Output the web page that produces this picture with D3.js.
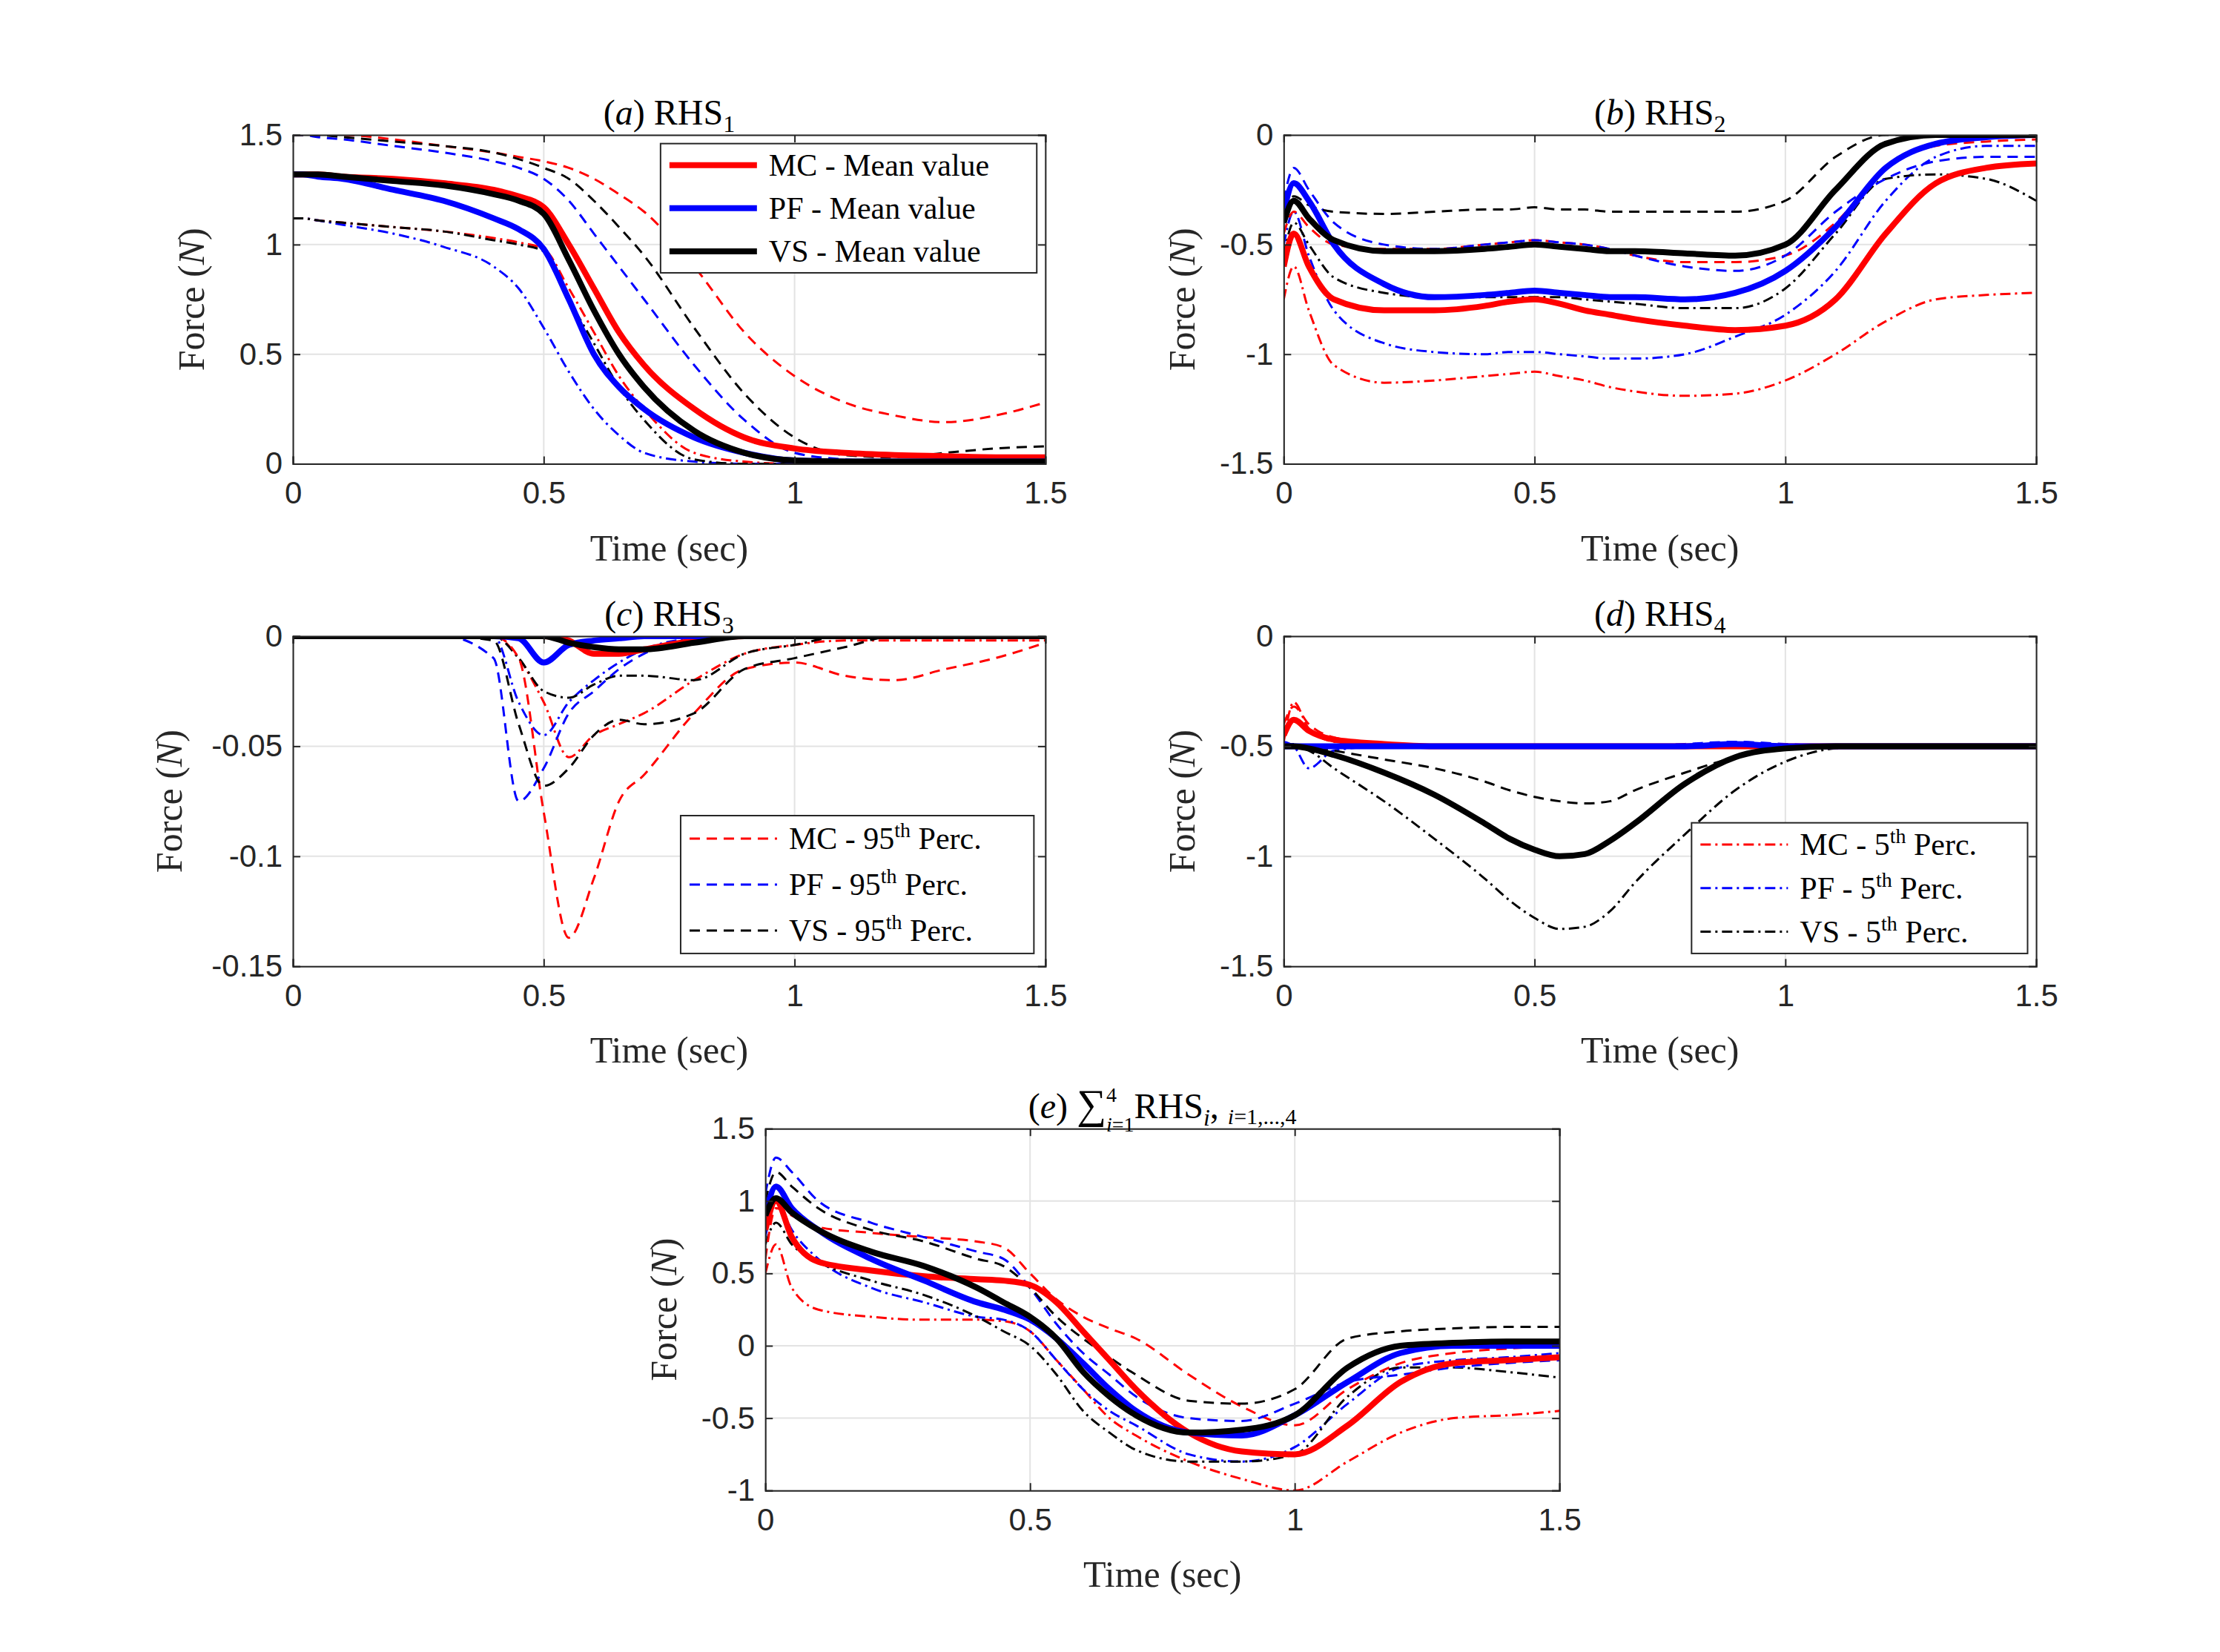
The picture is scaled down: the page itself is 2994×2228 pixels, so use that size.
<!DOCTYPE html>
<html><head><meta charset="utf-8">
<script src="https://cdn.jsdelivr.net/npm/d3@7"></script>
<style>
body{margin:0;background:#fff}
svg{font-family:"Liberation Serif","DejaVu Serif",serif}
.ejes text{font-size:42px;fill:#262626}
.ejes path,.ejes line{stroke:#262626}
</style></head><body>
<div id="graf"></div>
<script>
const T = [0,0.02,0.05,0.1,0.2,0.3,0.4,0.45,0.5,0.55,0.6,0.65,0.7,0.8,0.9,1.0,1.1,1.2,1.3,1.4,1.5]

// (a) RHS1
const a_mcMean = [1.32,1.32,1.32,1.31,1.3,1.28,1.25,1.22,1.17,1.0,0.8,0.6,0.45,0.25,0.12,0.07,0.05,0.04,0.035,0.03,0.03]
const a_pfMean = [1.32,1.32,1.31,1.3,1.25,1.2,1.12,1.07,0.98,0.75,0.5,0.35,0.25,0.12,0.05,0.015,0.01,0.01,0.01,0.01,0.01]
const a_vsMean = [1.32,1.32,1.32,1.31,1.29,1.27,1.23,1.2,1.14,0.93,0.7,0.5,0.35,0.15,0.05,0.015,0.01,0.01,0.01,0.01,0.01]
const a_mc95 = [1.5,1.5,1.5,1.5,1.48,1.45,1.42,1.4,1.38,1.35,1.3,1.23,1.15,0.9,0.6,0.4,0.28,0.22,0.19,0.22,0.28]
const a_pf95 = [1.5,1.5,1.49,1.48,1.45,1.42,1.38,1.35,1.3,1.2,1.05,0.9,0.75,0.45,0.2,0.05,0.02,0.01,0.01,0.01,0.01]
const a_vs95 = [1.5,1.5,1.5,1.49,1.47,1.45,1.42,1.39,1.35,1.3,1.2,1.08,0.95,0.62,0.32,0.12,0.04,0.03,0.05,0.07,0.08]
const a_mc5 = [1.12,1.12,1.11,1.1,1.08,1.06,1.03,1.01,0.98,0.8,0.6,0.4,0.25,0.05,0.01,0,0,0,0,0,0]
const a_pf5 = [1.12,1.12,1.11,1.09,1.05,0.99,0.9,0.8,0.62,0.42,0.25,0.13,0.05,0.01,0,0,0,0,0,0,0]
const a_vs5 = [1.12,1.12,1.11,1.1,1.08,1.06,1.02,1.0,0.97,0.75,0.55,0.35,0.2,0.02,0,0,0,0,0,0,0]

// (b) RHS2
const b_mcMean = [-0.6,-0.45,-0.6,-0.75,-0.8,-0.8,-0.78,-0.76,-0.75,-0.77,-0.8,-0.82,-0.84,-0.87,-0.89,-0.87,-0.75,-0.45,-0.22,-0.15,-0.13]
const b_pfMean = [-0.35,-0.22,-0.3,-0.5,-0.68,-0.74,-0.73,-0.72,-0.71,-0.72,-0.73,-0.74,-0.74,-0.75,-0.72,-0.62,-0.42,-0.15,-0.04,-0.01,0]
const b_vsMean = [-0.4,-0.3,-0.38,-0.48,-0.53,-0.53,-0.52,-0.51,-0.5,-0.51,-0.52,-0.53,-0.53,-0.54,-0.55,-0.5,-0.25,-0.04,0,0,0]
const b_mc95 = [-0.45,-0.35,-0.42,-0.5,-0.52,-0.52,-0.5,-0.49,-0.48,-0.49,-0.5,-0.52,-0.55,-0.58,-0.58,-0.55,-0.4,-0.15,-0.05,-0.03,-0.02]
const b_pf95 = [-0.3,-0.15,-0.25,-0.4,-0.5,-0.52,-0.5,-0.49,-0.48,-0.49,-0.5,-0.52,-0.55,-0.6,-0.62,-0.55,-0.35,-0.2,-0.12,-0.1,-0.1]
const b_vs95 = [-0.35,-0.28,-0.32,-0.35,-0.36,-0.35,-0.34,-0.34,-0.33,-0.34,-0.34,-0.35,-0.35,-0.35,-0.35,-0.3,-0.1,0,0,0,0]
const b_mc5 = [-0.75,-0.6,-0.8,-1.05,-1.13,-1.12,-1.1,-1.09,-1.08,-1.1,-1.12,-1.15,-1.17,-1.19,-1.18,-1.12,-1.0,-0.85,-0.75,-0.73,-0.72]
const b_pf5 = [-0.5,-0.35,-0.55,-0.8,-0.95,-0.99,-1.0,-0.99,-0.99,-1.0,-1.01,-1.02,-1.02,-1.0,-0.92,-0.82,-0.62,-0.3,-0.1,-0.05,-0.05]
const b_vs5 = [-0.55,-0.4,-0.5,-0.65,-0.72,-0.74,-0.74,-0.74,-0.74,-0.74,-0.75,-0.76,-0.77,-0.79,-0.79,-0.7,-0.45,-0.2,-0.18,-0.2,-0.3]

// (c) RHS3
const c_mcMean = [0,0,0,0,0,0,0,0,0,-0.002,-0.008,-0.008,-0.006,-0.002,0,0,0,0,0,0,0]
const c_pfMean = [0,0,0,0,0,0,0,-0.001,-0.012,-0.004,-0.002,-0.001,0,0,0,0,0,0,0,0,0]
const c_vsMean = [0,0,0,0,0,0,0,0,0,-0.003,-0.005,-0.006,-0.006,-0.003,0,0,0,0,0,0,0]
const c_mc95 = [0,0,0,0,0,0,0,-0.01,-0.08,-0.137,-0.11,-0.075,-0.063,-0.035,-0.015,-0.012,-0.018,-0.02,-0.015,-0.01,-0.003]
const c_pf95 = [0,0,0,0,0,0,-0.01,-0.075,-0.06,-0.035,-0.025,-0.015,-0.008,-0.002,0,0,0,0,0,0,0]
const c_vs95 = [0,0,0,0,0,0,-0.002,-0.04,-0.068,-0.06,-0.045,-0.038,-0.04,-0.035,-0.015,-0.01,-0.005,0,0,0,0]
const c_mc5 = [0,0,0,0,0,0,0,-0.01,-0.03,-0.055,-0.045,-0.04,-0.035,-0.02,-0.008,-0.004,-0.002,-0.002,-0.002,-0.002,-0.002]
const c_pf5 = [0,0,0,0,0,0,0,-0.03,-0.045,-0.03,-0.02,-0.012,-0.006,-0.001,0,0,0,0,0,0,0]
const c_vs5 = [0,0,0,0,0,0,0,-0.01,-0.025,-0.028,-0.022,-0.018,-0.018,-0.02,-0.008,-0.004,0,0,0,0,0]

// (d) RHS4
const d_mcMean = [-0.45,-0.38,-0.43,-0.47,-0.49,-0.5,-0.5,-0.5,-0.5,-0.5,-0.5,-0.5,-0.5,-0.5,-0.5,-0.5,-0.5,-0.5,-0.5,-0.5,-0.5]
const d_pfMean = [-0.5,-0.5,-0.5,-0.5,-0.5,-0.5,-0.5,-0.5,-0.5,-0.5,-0.5,-0.5,-0.5,-0.5,-0.49,-0.5,-0.5,-0.5,-0.5,-0.5,-0.5]
const d_vsMean = [-0.5,-0.5,-0.51,-0.54,-0.62,-0.72,-0.85,-0.92,-0.97,-1.0,-0.99,-0.93,-0.85,-0.67,-0.55,-0.51,-0.5,-0.5,-0.5,-0.5,-0.5]
const d_mc95 = [-0.4,-0.32,-0.4,-0.46,-0.49,-0.5,-0.5,-0.5,-0.5,-0.5,-0.5,-0.5,-0.5,-0.5,-0.49,-0.5,-0.5,-0.5,-0.5,-0.5,-0.5]
const d_pf95 = [-0.5,-0.49,-0.5,-0.5,-0.5,-0.5,-0.5,-0.5,-0.5,-0.5,-0.5,-0.5,-0.5,-0.49,-0.48,-0.49,-0.5,-0.5,-0.5,-0.5,-0.5]
const d_vs95 = [-0.5,-0.5,-0.5,-0.52,-0.56,-0.6,-0.66,-0.7,-0.73,-0.75,-0.76,-0.75,-0.7,-0.62,-0.55,-0.51,-0.5,-0.5,-0.5,-0.5,-0.5]
const d_mc5 = [-0.48,-0.3,-0.42,-0.48,-0.5,-0.5,-0.5,-0.5,-0.5,-0.5,-0.5,-0.5,-0.5,-0.5,-0.5,-0.5,-0.5,-0.5,-0.5,-0.5,-0.5]
const d_pf5 = [-0.48,-0.5,-0.6,-0.52,-0.5,-0.5,-0.5,-0.5,-0.5,-0.5,-0.5,-0.5,-0.5,-0.5,-0.5,-0.5,-0.5,-0.5,-0.5,-0.5,-0.5]
const d_vs5 = [-0.5,-0.5,-0.52,-0.6,-0.75,-0.92,-1.1,-1.2,-1.28,-1.33,-1.32,-1.25,-1.12,-0.9,-0.7,-0.57,-0.51,-0.5,-0.5,-0.5,-0.5]

// (e) sum
const e_mcMean = [0.8,1.0,0.75,0.58,0.52,0.48,0.46,0.45,0.42,0.3,0.1,-0.1,-0.3,-0.6,-0.73,-0.75,-0.55,-0.25,-0.12,-0.1,-0.08]
const e_pfMean = [0.9,1.1,0.95,0.8,0.6,0.45,0.3,0.25,0.18,0.05,-0.12,-0.3,-0.45,-0.6,-0.62,-0.48,-0.25,-0.05,0,0,0]
const e_vsMean = [0.9,1.02,0.92,0.8,0.65,0.55,0.4,0.3,0.2,0.05,-0.18,-0.35,-0.48,-0.6,-0.58,-0.48,-0.15,0,0.02,0.03,0.03]
const e_mc95 = [0.6,0.95,0.9,0.82,0.78,0.75,0.72,0.68,0.5,0.32,0.2,0.12,0.05,-0.2,-0.42,-0.55,-0.3,-0.12,-0.05,-0.02,0]
const e_pf95 = [1.05,1.3,1.2,1.0,0.85,0.75,0.65,0.6,0.4,0.15,-0.05,-0.2,-0.35,-0.5,-0.52,-0.4,-0.25,-0.2,-0.15,-0.12,-0.1]
const e_vs95 = [1.0,1.2,1.1,0.95,0.8,0.72,0.6,0.55,0.4,0.2,0.05,-0.08,-0.2,-0.38,-0.4,-0.3,0.05,0.1,0.12,0.13,0.13]
const e_mc5 = [0.5,0.7,0.4,0.25,0.2,0.18,0.18,0.17,0.1,-0.1,-0.3,-0.5,-0.62,-0.8,-0.92,-1.0,-0.8,-0.6,-0.5,-0.48,-0.45]
const e_pf5 = [0.75,1.0,0.8,0.6,0.4,0.3,0.2,0.18,0.1,-0.1,-0.3,-0.45,-0.55,-0.75,-0.8,-0.7,-0.4,-0.15,-0.1,-0.08,-0.05]
const e_vs5 = [0.7,0.85,0.7,0.58,0.45,0.35,0.2,0.1,0.0,-0.2,-0.45,-0.6,-0.72,-0.8,-0.8,-0.75,-0.35,-0.15,-0.15,-0.18,-0.22]

const xTicks = [0, 0.5, 1, 1.5]
const S = 2994 / 1546

const colores = { MC: "#ff0000", PF: "#0000ff", VS: "#000000" }
const dash = { mean: null, p95: "14,9", p5: "14,6,3,6" }

const panels = [
  { id: "a", box: [204, 94, 728, 323], y: [0, 1.5], yt: [0, 0.5, 1, 1.5], sub: "1",
    series: { MC: [a_mcMean, a_mc95, a_mc5], PF: [a_pfMean, a_pf95, a_pf5], VS: [a_vsMean, a_vs95, a_vs5] },
    legend: { kind: "mean", box: [460, 100, 722, 190] } },
  { id: "b", box: [894, 94, 1418, 323], y: [-1.5, 0], yt: [-1.5, -1, -0.5, 0], sub: "2",
    series: { MC: [b_mcMean, b_mc95, b_mc5], PF: [b_pfMean, b_pf95, b_pf5], VS: [b_vsMean, b_vs95, b_vs5] } },
  { id: "c", box: [204, 443, 728, 673], y: [-0.15, 0], yt: [-0.15, -0.1, -0.05, 0], sub: "3",
    series: { MC: [c_mcMean, c_mc95, c_mc5], PF: [c_pfMean, c_pf95, c_pf5], VS: [c_vsMean, c_vs95, c_vs5] },
    legend: { kind: "p95", box: [474, 568, 720, 664] } },
  { id: "d", box: [894, 443, 1418, 673], y: [-1.5, 0], yt: [-1.5, -1, -0.5, 0], sub: "4",
    series: { MC: [d_mcMean, d_mc95, d_mc5], PF: [d_pfMean, d_pf95, d_pf5], VS: [d_vsMean, d_vs95, d_vs5] },
    legend: { kind: "p5", box: [1178, 573, 1412, 664] } },
  { id: "e", box: [533, 786, 1086, 1038], y: [-1, 1.5], yt: [-1, -0.5, 0, 0.5, 1, 1.5], sub: null,
    series: { MC: [e_mcMean, e_mc95, e_mc5], PF: [e_pfMean, e_pf95, e_pf5], VS: [e_vsMean, e_vs95, e_vs5] } }
]

const svg = d3.select("#graf").append("svg").attr("width", 2994).attr("height", 2228)

const fmt = (d) => (d === 0 ? "0" : String(d).replace(/^(-?)0\./, "$1" + "0."))

panels.forEach((p) => {
  const [x0, y0, x1, y1] = p.box.map((v) => v * S)
  const w = x1 - x0, h = y1 - y0
  const g = svg.append("g").attr("transform", `translate(${x0}, ${y0})`)
  const x = d3.scaleLinear().domain([0, 1.5]).range([0, w])
  const y = d3.scaleLinear().domain(p.y).range([h, 0])

  // grid
  g.selectAll(".gx").data(xTicks).enter().append("line")
    .attr("x1", (d) => x(d)).attr("x2", (d) => x(d)).attr("y1", 0).attr("y2", h)
    .attr("stroke", "#e3e3e3").attr("stroke-width", 2)
  g.selectAll(".gy").data(p.yt).enter().append("line")
    .attr("y1", (d) => y(d)).attr("y2", (d) => y(d)).attr("x1", 0).attr("x2", w)
    .attr("stroke", "#e3e3e3").attr("stroke-width", 2)

  const line = d3.line().x((d, i) => x(T[i])).y((d) => y(d)).curve(d3.curveMonotoneX)
  const clip = "clip" + p.id
  g.append("clipPath").attr("id", clip).append("rect").attr("width", w).attr("height", h)
  const lg = g.append("g").attr("clip-path", `url(#${clip})`)
  const order = [[2, "p5"], [1, "p95"], [0, "mean"]]
  order.forEach(([k, kind]) => {
    ["MC", "PF", "VS"].forEach((s) => {
      lg.append("path").attr("d", line(p.series[s][k])).attr("fill", "none")
        .attr("stroke", colores[s]).attr("stroke-width", kind === "mean" ? 8 : 3)
        .attr("stroke-dasharray", dash[kind])
    })
  })

  // axes
  const xa = g.append("g").attr("class", "ejes").attr("transform", `translate(0, ${h})`)
    .call(d3.axisBottom(x).tickValues(xTicks).tickSize(-10).tickPadding(24).tickFormat(fmt))
  const ya = g.append("g").attr("class", "ejes")
    .call(d3.axisLeft(y).tickValues(p.yt).tickSize(-10).tickPadding(14).tickFormat(fmt))
  g.append("g").attr("class", "ejes")
    .call(d3.axisTop(x).tickValues(xTicks).tickSize(-10).tickFormat(""))
  g.append("g").attr("class", "ejes").attr("transform", `translate(${w}, 0)`)
    .call(d3.axisRight(y).tickValues(p.yt).tickSize(-10).tickFormat(""))
  g.selectAll(".ejes path").attr("stroke-width", 2)
  g.selectAll(".ejes line").attr("stroke-width", 2)
  g.selectAll(".ejes .domain").attr("d", function () { return d3.select(this).attr("d").replace(/M[^H]*H/, (m) => m) })

  // labels
  g.append("text").attr("x", w / 2).attr("y", h + 130).attr("text-anchor", "middle")
    .attr("font-size", 50).attr("fill", "#262626").text("Time (sec)")
  const yl = g.append("text").attr("transform", `translate(${p.id === "c" ? -150 : -120}, ${h / 2}) rotate(-90)`)
    .attr("text-anchor", "middle").attr("font-size", 50).attr("fill", "#262626")
  yl.append("tspan").text("Force (")
  yl.append("tspan").attr("font-style", "italic").text("N")
  yl.append("tspan").text(")")

  // title
  const tt = g.append("text").attr("x", w / 2).attr("y", -14).attr("text-anchor", "middle")
    .attr("font-size", 48).attr("fill", "#000")
  tt.append("tspan").text("(")
  tt.append("tspan").attr("font-style", "italic").text(p.id)
  tt.append("tspan").text(") ")
  if (p.sub) {
    tt.append("tspan").text("RHS")
    tt.append("tspan").attr("font-size", 32).attr("dy", 10).text(p.sub)
  } else {
    tt.append("tspan").attr("font-size", 56).text("∑")
    tt.append("tspan").attr("font-size", 28).attr("dy", -22).text("4")
    tt.append("tspan").attr("font-size", 28).attr("dx", -14).attr("dy", 40).attr("font-style", "italic").text("i")
    tt.append("tspan").attr("font-size", 28).text("=1")
    tt.append("tspan").attr("dy", -18).text("RHS")
    tt.append("tspan").attr("font-size", 32).attr("dy", 10).attr("font-style", "italic").text("i")
    tt.append("tspan").attr("dy", -10).text(",  ")
    tt.append("tspan").attr("font-size", 30).attr("dy", 8).attr("font-style", "italic").text("i")
    tt.append("tspan").attr("font-size", 30).text("=1,...,4")
  }

  // legend
  if (p.legend) {
    const [lx0, ly0, lx1, ly1] = p.legend.box.map((v) => v * S)
    const lgd = svg.append("g").attr("transform", `translate(${lx0}, ${ly0})`)
    lgd.append("rect").attr("width", lx1 - lx0).attr("height", ly1 - ly0)
      .attr("fill", "#fff").attr("stroke", "#262626").attr("stroke-width", 2)
    const rowH = (ly1 - ly0) / 3
    ;["MC", "PF", "VS"].forEach((s, i) => {
      const cy = rowH * (i + 0.5)
      lgd.append("line").attr("x1", 12).attr("x2", 130).attr("y1", cy).attr("y2", cy)
        .attr("stroke", colores[s]).attr("stroke-width", p.legend.kind === "mean" ? 8 : 3)
        .attr("stroke-dasharray", dash[p.legend.kind])
      const t = lgd.append("text").attr("x", 146).attr("y", cy + 14).attr("font-size", 42).attr("fill", "#000")
      if (p.legend.kind === "mean") {
        t.text(`${s} - Mean value`)
      } else {
        t.append("tspan").text(`${s} - ${p.legend.kind === "p95" ? "95" : "5"}`)
        t.append("tspan").attr("font-size", 28).attr("dy", -16).text("th")
        t.append("tspan").attr("dy", 16).text(" Perc.")
      }
    })
  }
})
</script>
</body></html>
